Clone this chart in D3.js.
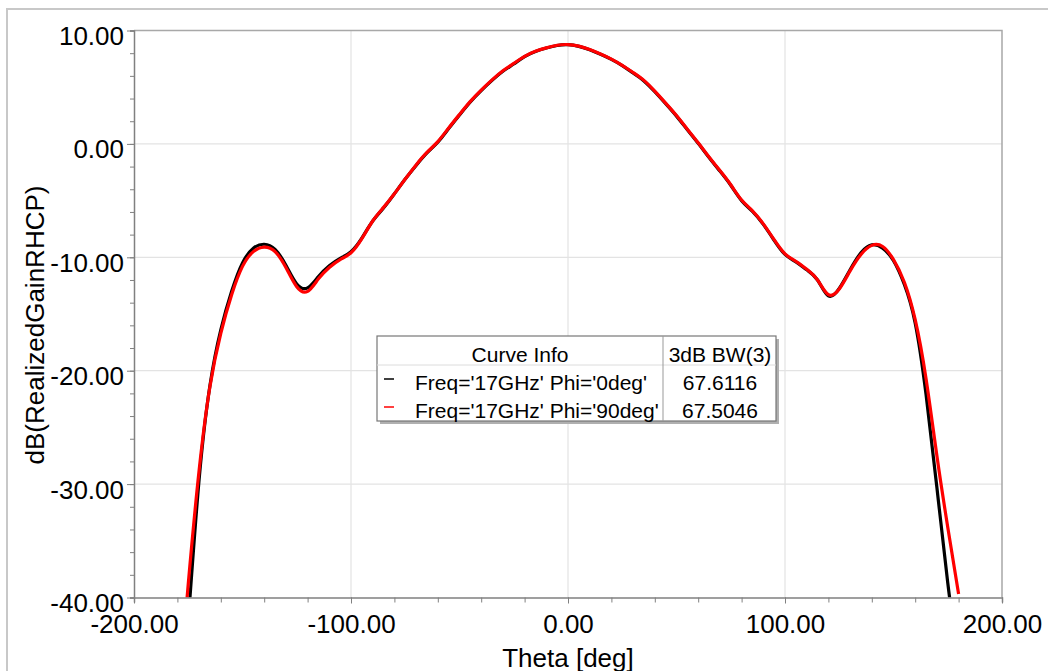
<!DOCTYPE html>
<html><head><meta charset="utf-8">
<script src="https://cdn.jsdelivr.net/npm/d3@7"></script>
<style>body{margin:0;background:#fff} text{font-family:"Liberation Sans",Arial,sans-serif;fill:#000}</style>
</head><body><svg id="c" width="1048" height="671"></svg>
<script>
const theta=[-180,-175,-170,-165,-160,-155,-150,-145,-140,-135,-130,-125,-120,-115,-110,-105,-100,-95,-90,-85,-80,-75,-70,-65,-60,-55,-50,-45,-40,-35,-30,-25,-20,-15,-10,-5,0,5,10,15,20,25,30,35,40,45,50,55,60,65,70,75,80,85,90,95,100,105,110,115,120,125,130,135,140,145,150,155,160,165,170,175,180];
const gainPhi0=[-55,-42.1,-29.6,-21.3,-16.4,-13.0,-10.5,-9.2,-8.85,-9.3,-10.7,-12.35,-12.7,-11.7,-10.75,-10.1,-9.5,-8.3,-6.8,-5.65,-4.4,-3.1,-1.9,-0.8,0.15,1.35,2.55,3.7,4.7,5.6,6.4,7.05,7.7,8.15,8.45,8.68,8.75,8.6,8.3,7.9,7.45,6.9,6.25,5.55,4.6,3.55,2.45,1.25,0.05,-1.2,-2.4,-3.65,-5.0,-5.95,-7.1,-8.5,-9.75,-10.4,-11.1,-12.0,-13.4,-12.75,-11.1,-9.6,-8.9,-9.2,-10.3,-12.4,-15.8,-22.1,-30.3,-38.7,-46];
const gainPhi90=[-50,-38.8,-28.8,-21.4,-16.7,-13.3,-10.8,-9.5,-9.1,-9.5,-10.9,-12.6,-13.0,-11.9,-10.9,-10.2,-9.6,-8.35,-6.8,-5.6,-4.4,-3.1,-1.85,-0.75,0.2,1.4,2.6,3.75,4.75,5.65,6.45,7.1,7.72,8.17,8.47,8.7,8.76,8.62,8.32,7.93,7.48,6.93,6.3,5.6,4.65,3.6,2.5,1.3,0.1,-1.15,-2.35,-3.6,-4.95,-5.9,-7.05,-8.45,-9.7,-10.35,-11.05,-12.0,-13.3,-12.8,-11.2,-9.75,-8.95,-9.05,-10.2,-12.2,-15.5,-20.7,-27.5,-33.8,-39.7];
const xTicks=[-200,-100,0,100,200];
const yTicks=[10,0,-10,-20,-30,-40];
const seriesNames=["Freq='17GHz' Phi='0deg'","Freq='17GHz' Phi='90deg'"];
const bw3dB=["67.6116","67.5046"];
const seriesColors=["#000000","#ff0000"];
const xTitle="Theta [deg]", yTitle="dB(RealizedGainRHCP)";
const legendHeader=["Curve Info","3dB BW(3)"];

const svg=d3.select("#c");
const L=134,R=1002,T=30.5,B=597.5;
const x=d3.scaleLinear().domain([-200,200]).range([L,R]);
const y=d3.scaleLinear().domain([-40,10]).range([B,T]);
const FONT='"Liberation Sans",Arial,sans-serif';

// outer frame
svg.append("rect").attr("x",7).attr("y",9).attr("width",1100).attr("height",700)
  .attr("fill","#fff").attr("stroke","#c8c8c8").attr("stroke-width",2);

// grid
const g=svg.append("g");
g.selectAll(".gx").data(xTicks.slice(1,-1)).join("line")
  .attr("x1",d=>x(d)).attr("x2",d=>x(d)).attr("y1",T).attr("y2",B)
  .attr("stroke","#e3e3e3").attr("stroke-width",1.2);
g.selectAll(".gy").data(yTicks.slice(1,-1)).join("line")
  .attr("y1",d=>y(d)).attr("y2",d=>y(d)).attr("x1",L).attr("x2",R)
  .attr("stroke","#e3e3e3").attr("stroke-width",1.2);
svg.append("path").attr("d",`M${L},${T}H${R}V${B}`).attr("fill","none").attr("stroke","#a8a8a8").attr("stroke-width",1.5);

// curves
svg.append("clipPath").attr("id","pc").append("rect")
  .attr("x",L).attr("y",T).attr("width",R-L).attr("height",B-T);
const line=d3.line().x((d,i)=>x(theta[i])).y(d=>y(d)).curve(d3.curveNatural);
[gainPhi0,gainPhi90].forEach((s,k)=>{
  svg.append("path").attr("clip-path","url(#pc)").attr("d",line(s))
    .attr("fill","none").attr("stroke",seriesColors[k]).attr("stroke-width",3.2)
    .attr("stroke-linejoin","round");
});

// axes
const fmt=d=>d.toFixed(2);
const minorY=d3.range(-40,10.01,2), minorX=d3.range(-200,200.01,20);
const ay=svg.append("g").attr("transform",`translate(${L},0)`)
  .call(d3.axisLeft(y).tickValues(minorY).tickSize(4).tickFormat(""));
const ax=svg.append("g").attr("transform",`translate(0,${B})`)
  .call(d3.axisBottom(x).tickValues(minorX).tickSize(5).tickFormat(""));
[ay,ax].forEach(a=>{a.select(".domain").attr("stroke","#808080").attr("stroke-width",1.5);
  a.selectAll(".tick line").attr("stroke","#808080");});
const ayM=svg.append("g").attr("transform",`translate(${L},0)`)
  .call(d3.axisLeft(y).tickValues(yTicks).tickSize(7).tickPadding(4).tickFormat(fmt));
ayM.select(".domain").remove();
ayM.selectAll(".tick line").attr("stroke","#808080");
ayM.selectAll("text").attr("font-size",26).attr("dy",14).attr("x",-10).style("font-family",FONT);
const axM=svg.append("g").attr("transform",`translate(0,${B})`)
  .call(d3.axisBottom(x).tickValues(xTicks).tickSize(6).tickFormat(fmt));
axM.select(".domain").remove();
axM.selectAll(".tick line").attr("stroke","#808080");
axM.selectAll("text").attr("font-size",26).attr("y",35).attr("dy",0).style("font-family",FONT);

// titles
svg.append("text").attr("x",568).attr("y",667).attr("text-anchor","middle")
  .attr("font-size",26).text(xTitle);
svg.append("text").attr("transform","translate(44,325) rotate(-90)").attr("text-anchor","middle")
  .attr("font-size",26).text(yTitle);

// legend
const lg=svg.append("g");
lg.append("rect").attr("x",380).attr("y",339).attr("width",399).attr("height",85).attr("fill","#b0b0b0");
lg.append("rect").attr("x",377).attr("y",336).attr("width",399).attr("height",85)
  .attr("fill","#fff").attr("stroke","#777").attr("stroke-width",1.2);
lg.append("line").attr("x1",377).attr("x2",776).attr("y1",365).attr("y2",365).attr("stroke","#dcdcdc");
lg.append("line").attr("x1",663).attr("x2",663).attr("y1",336).attr("y2",421).attr("stroke","#999");
lg.append("text").attr("x",520).attr("y",362).attr("text-anchor","middle").attr("font-size",21).text(legendHeader[0]);
lg.append("text").attr("x",720).attr("y",362).attr("text-anchor","middle").attr("font-size",21).text(legendHeader[1]);
seriesNames.forEach((n,i)=>{
  const yy=379+i*28;
  lg.append("line").attr("x1",384).attr("x2",394).attr("y1",yy).attr("y2",yy).attr("stroke",seriesColors[i]).attr("stroke-width",1.5);
  lg.append("text").attr("x",415).attr("y",yy+11).attr("font-size",21).text(n);
  lg.append("text").attr("x",720).attr("y",yy+11).attr("text-anchor","middle").attr("font-size",21).text(bw3dB[i]);
});
</script></body></html>
